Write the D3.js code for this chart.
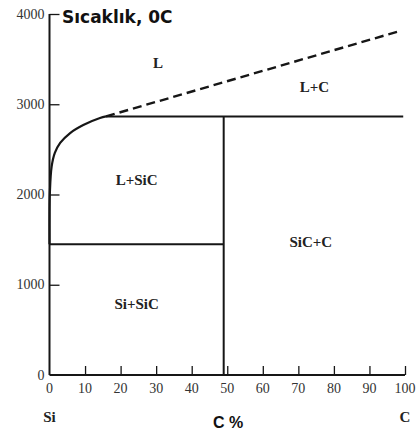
<!DOCTYPE html>
<html>
<head>
<meta charset="utf-8">
<script src="https://cdn.jsdelivr.net/npm/d3@7/dist/d3.min.js"></script>
<style>
  html, body { margin: 0; padding: 0; background: #fff; }
  svg { display: block; }
</style>
</head>
<body>
<svg id="chart" width="417" height="435"></svg>
<script>
// Si–C phase diagram: temperature (°C) against carbon content (at.%)
const xTicks = [0, 10, 20, 30, 40, 50, 60, 70, 80, 90, 100];
const yTicks = [0, 1000, 2000, 3000, 4000];

// Liquidus on the Si-rich side (solid curve)
const liquidusX = [0, 0, 0.1, 0.6, 1.5, 3.0, 5.8, 9.5, 14.2, 15.9];
const liquidusT = [1450, 1800, 2017, 2308, 2460, 2571, 2681, 2770, 2848, 2865];

// Liquidus above the peritectic (dashed, estimated)
const dashedX = [15.9, 98];
const dashedT = [2865, 3805];

// Invariant lines
const peritecticT = 2865;   // L + SiC / L + C boundary
const eutecticT = 1450;     // Si + SiC below
const sicX = 49;            // SiC line composition

// Phase-field labels
const fieldNames = ["L", "L+C", "L+SiC", "SiC+C", "Si+SiC"];
const fieldX = [30.5, 74.5, 24.5, 73.5, 24.5];
const fieldT = [3460, 3190, 2160, 1475, 790];

const svg = d3.select("#chart");
const x = d3.scaleLinear().domain([0, 100]).range([49.5, 405]);
const y = d3.scaleLinear().domain([0, 4000]).range([375, 14]);
const ink = "#161616";

// Axes: ticks point inward, labels in a serif face
const xAxis = d3.axisTop(x).tickValues(xTicks.slice(1)).tickSize(9).tickFormat("");
const gx = svg.append("g").attr("transform", `translate(0,${y(0)})`).call(xAxis);
gx.select(".domain").remove();
gx.selectAll(".tick line").attr("stroke", ink).attr("stroke-width", 1.3);

const yAxis = d3.axisRight(y).tickValues(yTicks.slice(1)).tickSize(10).tickFormat("");
const gy = svg.append("g").attr("transform", `translate(${x(0)},0)`).call(yAxis);
gy.select(".domain").remove();
gy.selectAll(".tick line").attr("stroke", ink).attr("stroke-width", 1.3);

// Axis lines
svg.append("line").attr("x1", x(0)).attr("x2", x(100)).attr("y1", y(0)).attr("y2", y(0))
  .attr("stroke", ink).attr("stroke-width", 2);
svg.append("line").attr("x1", x(0)).attr("x2", x(0)).attr("y1", y(0)).attr("y2", y(4000))
  .attr("stroke", ink).attr("stroke-width", 2);

// Tick labels
const serif = "'Liberation Serif', 'Times New Roman', serif";
svg.append("g").selectAll("text").data(xTicks).join("text")
  .attr("x", d => x(d)).attr("y", y(0) + 18)
  .attr("text-anchor", "middle").attr("font-family", serif).attr("font-size", 14)
  .attr("fill", "#333").text(d => d);
svg.append("g").selectAll("text").data(yTicks).join("text")
  .attr("x", x(0) - 5).attr("y", d => y(d) + 4.5)
  .attr("text-anchor", "end").attr("font-family", serif).attr("font-size", 14)
  .attr("fill", "#333").text(d => d);

// Phase boundaries
svg.append("path").datum(d3.zip(liquidusX, liquidusT))
  .attr("d", d3.line().x(d => x(d[0])).y(d => y(d[1])).curve(d3.curveCatmullRom.alpha(0.5)))
  .attr("fill", "none").attr("stroke", ink).attr("stroke-width", 2.2);

svg.append("path").datum(d3.zip(dashedX, dashedT))
  .attr("d", d3.line().x(d => x(d[0])).y(d => y(d[1])))
  .attr("fill", "none").attr("stroke", ink).attr("stroke-width", 2.4)
  .attr("stroke-dasharray", "9,5");

svg.append("line").attr("x1", x(liquidusX[liquidusX.length - 1])).attr("x2", x(99.5))
  .attr("y1", y(peritecticT)).attr("y2", y(peritecticT))
  .attr("stroke", ink).attr("stroke-width", 2);
svg.append("line").attr("x1", x(0)).attr("x2", x(sicX))
  .attr("y1", y(eutecticT)).attr("y2", y(eutecticT))
  .attr("stroke", ink).attr("stroke-width", 2);
svg.append("line").attr("x1", x(sicX)).attr("x2", x(sicX))
  .attr("y1", y(peritecticT)).attr("y2", y(0))
  .attr("stroke", ink).attr("stroke-width", 2);

// Phase-field labels
svg.append("g").selectAll("text").data(fieldNames).join("text")
  .attr("x", (d, i) => x(fieldX[i])).attr("y", (d, i) => y(fieldT[i]) + 5)
  .attr("text-anchor", "middle").attr("font-family", serif).attr("font-weight", "bold")
  .attr("font-size", 15).attr("fill", "#222").text(d => d);

// Axis titles
svg.append("text").attr("x", 62).attr("y", 23)
  .attr("font-family", "'DejaVu Sans', sans-serif").attr("font-weight", "bold")
  .attr("font-size", 17).attr("fill", "#111").text("Sıcaklık, 0C");
svg.append("text").attr("x", 228).attr("y", 428).attr("text-anchor", "middle")
  .attr("font-family", "'Liberation Sans', Arial, sans-serif").attr("font-weight", "bold")
  .attr("font-size", 16).attr("fill", "#111").text("C %");
svg.append("text").attr("x", x(0)).attr("y", 422).attr("text-anchor", "middle")
  .attr("font-family", serif).attr("font-weight", "bold")
  .attr("font-size", 15).attr("fill", "#222").text("Si");
svg.append("text").attr("x", x(100)).attr("y", 422).attr("text-anchor", "middle")
  .attr("font-family", serif).attr("font-weight", "bold")
  .attr("font-size", 15).attr("fill", "#222").text("C");
</script>
</body>
</html>
